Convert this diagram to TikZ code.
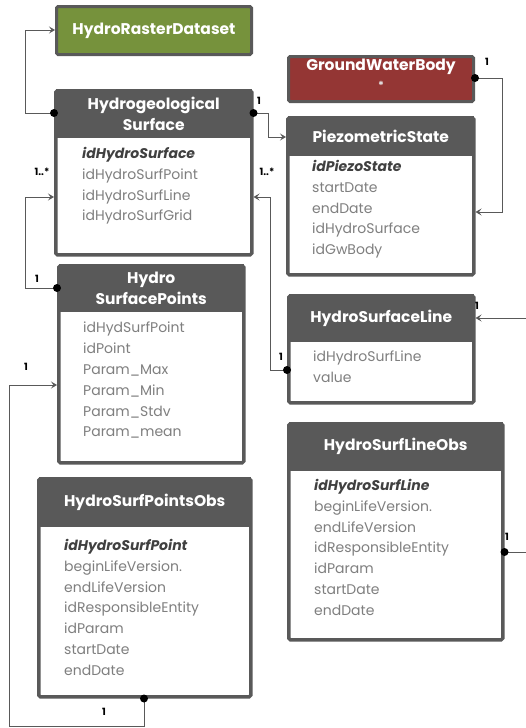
\documentclass[tikz,border=0pt]{standalone}
\usepackage{fontspec}
\setmainfont{Poppins}
\usetikzlibrary{arrows.meta,positioning}

\definecolor{boxgray}{HTML}{595959}
\definecolor{txtgray}{HTML}{7F7F7F}
\definecolor{keygray}{HTML}{404040}
\definecolor{rastergreen}{HTML}{76923C}
\definecolor{gwbred}{HTML}{943634}

\tikzset{
  cls/.style={draw=boxgray, line width=3.5pt, fill=white, rounded corners=1.5pt,
    anchor=north west, inner sep=0pt},
  hdr/.style={fill=boxgray, text=white, font=\fontsize{15.5}{21}\selectfont\bfseries,
    align=center, anchor=north, inner sep=0pt},
  attr/.style={text=txtgray, font=\fontsize{14}{20.8}\selectfont, align=left,
    anchor=north west, inner sep=0pt},
  mult/.style={font=\fontsize{10}{10}\selectfont\bfseries, inner sep=0pt},
  conn/.style={draw=boxgray, line width=1pt},
  to/.style={conn, -{Stealth[length=6pt,width=7pt,inset=2.5pt]}},
}
\newcommand{\keyattr}[1]{\textcolor{keygray}{\bfseries\itshape #1}}

\begin{document}
\begin{tikzpicture}[x=1pt, y=-1pt]
  \useasboundingbox (0,0) rectangle (526,728);

  % HydroRasterDataset
  \node[cls, fill=rastergreen, line width=3pt, minimum width=195pt, minimum height=48pt] (hrd) at (55,5) {};
  \node[text=white, font=\fontsize{15.5}{16}\selectfont\bfseries] (hrdT) at (hrd.center) {HydroRasterDataset};

  % GroundWaterBody
  \node[cls, fill=gwbred, line width=3pt, minimum width=185pt, minimum height=45pt] (gwb) at (287,55) {};
  \node[text=white, font=\fontsize{15.5}{17}\selectfont\bfseries, align=center, anchor=north] (gwbT)
    at (gwb.north) {GroundWaterBody\\[2pt]{\fontsize{11}{10}\selectfont\color{white!80!gray} *}};

  % Hydrogeological Surface
  \node[cls, minimum width=196pt, minimum height=164pt] (hs) at (54,89) {};
  \node[hdr, minimum width=196pt, minimum height=49pt] (hsH) at (hs.north) {Hydrogeological\\Surface};
  \node[attr] (hsA) at (82,147) {\keyattr{idHydroSurface}\\idHydroSurfPoint\\idHydroSurfLine\\idHydroSurfGrid};

  % PiezometricState
  \node[cls, minimum width=186pt, minimum height=157pt] (ps) at (286,116) {};
  \node[hdr, minimum width=186pt, minimum height=40pt] (psH) at (ps.north) {PiezometricState};
  \node[attr] (psA) at (312,160) {\keyattr{idPiezoState}\\startDate\\endDate\\idHydroSurface\\idGwBody};

  % Hydro SurfacePoints
  \node[cls, minimum width=185pt, minimum height=197pt] (hsp) at (57,264) {};
  \node[hdr, minimum width=185pt, minimum height=48pt] (hspH) at (hsp.north) {Hydro\\SurfacePoints};
  \node[attr] (hspA) at (83,322) {idHydSurfPoint\\idPoint\\Param\_Max\\Param\_Min\\Param\_Stdv\\Param\_mean};

  % HydroSurfaceLine
  \node[cls, minimum width=185pt, minimum height=107pt] (hsl) at (287,294) {};
  \node[hdr, minimum width=185pt, minimum height=48pt] (hslH) at (hsl.north) {HydroSurfaceLine};
  \node[attr] (hslA) at (313,351) {idHydroSurfLine\\value};

  % HydroSurfLineObs
  \node[cls, minimum width=214pt, minimum height=216pt] (hslo) at (287,422) {};
  \node[hdr, minimum width=214pt, minimum height=49pt] (hsloH) at (hslo.north) {HydroSurfLineObs};
  \node[attr] (hsloA) at (314,479) {\keyattr{idHydroSurfLine}\\beginLifeVersion.\\endLifeVersion\\idResponsibleEntity\\idParam\\startDate\\endDate};

  % HydroSurfPointsObs
  \node[cls, minimum width=212pt, minimum height=218pt] (hspo) at (37,477) {};
  \node[hdr, minimum width=212pt, minimum height=50pt] (hspoH) at (hspo.north) {HydroSurfPointsObs};
  \node[attr] (hspoA) at (64,539) {\keyattr{idHydroSurfPoint}\\beginLifeVersion.\\endLifeVersion\\idResponsibleEntity\\idParam\\startDate\\endDate};

  % connector end points
  \coordinate (hsL) at (hs.west |- 0,113);
  \coordinate (hsR) at (hs.east |- 0,113);
  \coordinate (hsIn) at (hs.west |- 0,197);
  \coordinate (hsInR) at (hs.east |- 0,197);
  \coordinate (gwbR) at (gwb.east |- 0,78);
  \coordinate (psIn) at (ps.west |- 0,137);
  \coordinate (psInR) at (ps.east |- 0,212);
  \coordinate (hspL) at (hsp.west |- 0,288);
  \coordinate (hspIn) at (hsp.west |- 0,385);
  \coordinate (hslL) at (hsl.west |- 0,370);
  \coordinate (hslIn) at (hsl.east |- 0,318);
  \coordinate (hsloR) at (hslo.east |- 0,552);
  \coordinate (hspoB) at (144,0 |- hspo.south);
  \coordinate (edgeA) at (526,318);
  \coordinate (edgeB) at (526,552);

  % connectors
  \draw[to] (hsL) -| (25,30) -- (hrd.west |- 0,30);
  \draw[to] (hsR) -| (268,137) -- (psIn);
  \draw[to] (gwbR) -| (502,212) -- (psInR);
  \draw[to] (hspL) -| (25,197) -- (hsIn);
  \draw[to] (hslL) -| (270,197) -- (hsInR);
  \draw[to] (edgeA) -- (hslIn);
  \draw[conn] (hsloR) -- (edgeB);
  \draw[to] (hspoB) |- (9,726) |- (hspIn);

  % dots
  \foreach \p in {hsL,hsR,gwbR,hspL,hslL,hsloR,hspoB}
    \fill[black] (\p) circle (4pt);

  % multiplicities
  \node[mult] (m1) at (259,101) {1};
  \node[mult] (m2) at (487,62) {1};
  \node[mult] (m3) at (37,279) {1};
  \node[mult] (m4) at (42,172) {1..*};
  \node[mult] (m5) at (267,172) {1..*};
  \node[mult] (m6) at (281,357) {1};
  \node[mult] (m7) at (477,306) {1};
  \node[mult] (m8) at (507,537) {1};
  \node[mult] (m9) at (26,367) {1};
  \node[mult] (m10) at (104,712) {1};
\end{tikzpicture}
\end{document}
